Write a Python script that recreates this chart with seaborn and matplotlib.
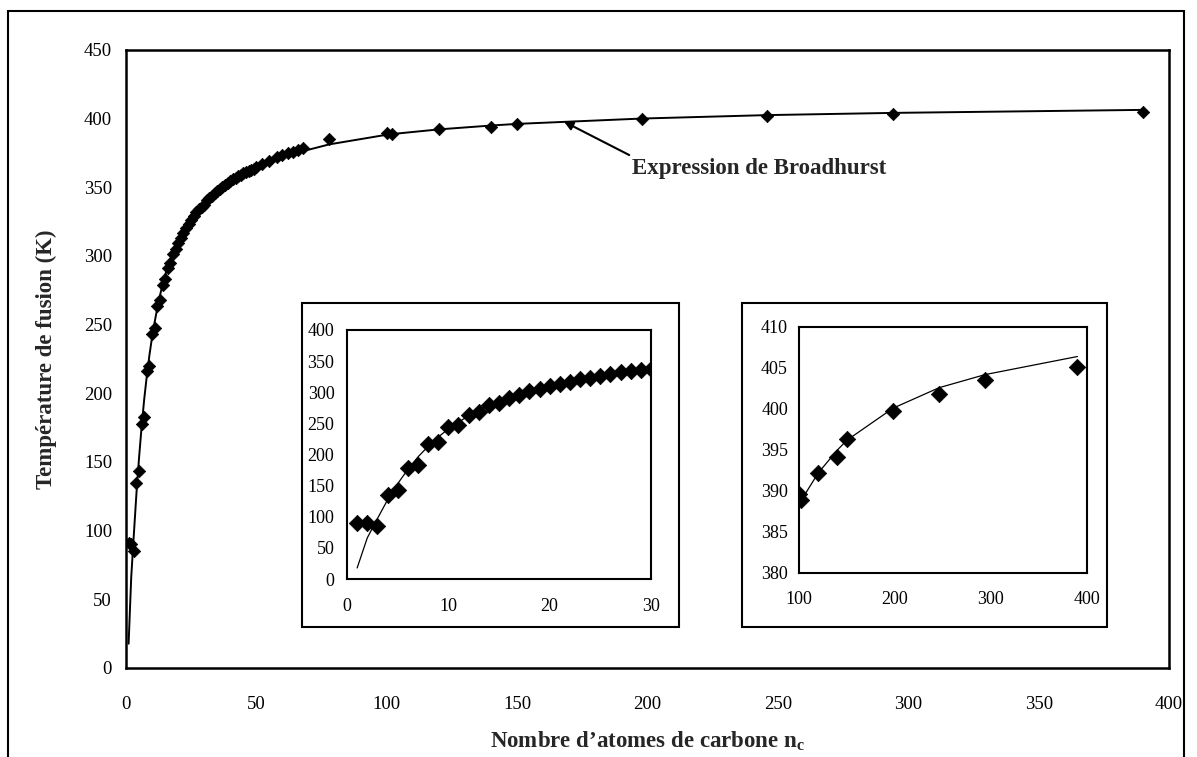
import numpy as np
import pandas as pd
import matplotlib
matplotlib.use("Agg")
import matplotlib.pyplot as plt
import seaborn as sns
from matplotlib.patches import Rectangle

# ------------------------------
# Data
# ------------------------------
n_carbon = [1, 2, 3, 4, 5, 6, 7, 8, 9, 10,
            11, 12, 13, 14, 15, 16, 17, 18, 19, 20,
            21, 22, 23, 24, 25, 26, 27, 28, 29, 30,
            31, 32, 33, 34, 35, 36, 37, 38, 39, 40,
            41, 42, 43, 44, 45, 46, 47, 48, 49, 50,
            52, 55, 58, 60, 62, 64, 66, 68, 78,
            100, 102, 120, 140, 150, 198, 246, 294, 390]

t_fusion = [90.7, 90.4, 85.5, 134.8, 143.5, 177.8, 182.6, 216.4, 219.7, 243.5,
            247.6, 263.6, 267.8, 279.0, 283.1, 291.3, 295.1, 301.3, 305.0, 309.6,
            313.4, 317.0, 320.5, 323.5, 326.5, 329.2, 331.8, 334.0, 335.8, 337.0,
            340.5, 342.2, 344.0, 345.8, 347.5, 349.0, 350.5, 352.0, 353.3, 354.6,
            355.8, 357.0, 358.1, 359.2, 360.2, 361.1, 362.0, 362.9, 363.7, 364.8,
            367.0, 369.2, 371.8, 373.4, 374.8, 375.9, 376.9, 378.6, 385.0,
            389.6, 388.9, 392.2, 394.1, 396.4, 399.8, 401.8, 403.5, 405.1]

# Broadhurst curve as drawn (one value per n)
t_broadhurst = [17.7, 66.0, 97.0, 127.0, 153.0, 176.0, 196.0, 213.0, 228.0, 241.0,
                252.0, 262.0, 271.0, 279.0, 286.0, 292.0, 297.5, 302.5, 307.0, 311.0,
                314.5, 318.0, 321.0, 324.0, 326.5, 329.0, 331.0, 333.0, 335.0, 337.0,
                339.5, 341.3, 343.1, 344.8, 346.4, 348.0, 349.5, 350.9, 352.3, 353.6,
                354.8, 356.0, 357.1, 358.2, 359.2, 360.2, 361.1, 362.0, 362.9, 363.8,
                365.5, 367.8, 370.0, 371.4, 372.7, 374.0, 375.2, 376.4, 381.3,
                388.3, 388.8, 392.2, 395.0, 396.2, 400.1, 402.6, 404.2, 406.4]

df = pd.DataFrame({"n": n_carbon, "Tf": t_fusion, "Tb": t_broadhurst})

sns.set_style("white")
plt.rcParams['font.family'] = ['Liberation Serif', 'DejaVu Serif']
plt.rcParams['mathtext.fontset'] = 'custom'
plt.rcParams['mathtext.rm'] = 'Liberation Serif'
plt.rcParams['mathtext.bf'] = 'Liberation Serif:bold'

W, H = 1197, 757
fig = plt.figure(figsize=(W / 100, H / 100), dpi=100)


def px_axes(x0, y0, x1, y1):
    return [x0 / W, 1 - y1 / H, (x1 - x0) / W, (y1 - y0) / H]


def draw_series(ax, data, lw, s):
    sns.lineplot(data=data, x="n", y="Tb", ax=ax, color="black", lw=lw,
                 sort=False, estimator=None, zorder=2)
    sns.scatterplot(data=data, x="n", y="Tf", ax=ax, marker="D", s=s,
                    color="black", edgecolor="black", linewidth=0.5, zorder=3)
    ax.set_xlabel("")
    ax.set_ylabel("")
    for sp in ax.spines.values():
        sp.set_color("black")
        sp.set_linewidth(1.5)


# ------------------------------
# Main plot
# ------------------------------
ax = fig.add_axes(px_axes(126, 50, 1169, 668))
draw_series(ax, df, 1.4, 40)
for sp in ax.spines.values():
    sp.set_linewidth(1.8)
ax.set_xlim(0, 400)
ax.set_ylim(0, 450)
ax.set_xticks(np.arange(0, 401, 50))
ax.set_yticks(np.arange(0, 451, 50))
ax.tick_params(axis="both", direction="in", length=4, width=1, labelsize=13.5, colors="black")
ax.tick_params(axis="x", pad=20)
ax.tick_params(axis="y", pad=10)
ax.set_xlabel("Nombre d’atomes de carbone $\\mathbf{n_c}$", fontsize=16.5, fontweight="bold")
ax.set_ylabel("Température de fusion (K)", fontsize=16.5, fontweight="bold")
ax.xaxis.set_label_coords(0.5, -0.10)
ax.yaxis.set_label_coords(-0.066, 0.5)

ax.text(194, 364, "Expression de Broadhurst", ha="left", va="center",
        fontsize=16.5, fontweight="bold")
ax.annotate("", xy=(168, 397.8), xytext=(193, 373.5),
            arrowprops=dict(arrowstyle="-|>", color="black", lw=1.5,
                            mutation_scale=13, shrinkA=0, shrinkB=0))

# outer frame
fig.add_artist(Rectangle((8 / W, -0.05), (1184 - 8) / W, (1 - 11 / H) + 0.05,
                         transform=fig.transFigure, fill=False, ec="black",
                         lw=1.5, clip_on=False))

# inset frames
for (x0, x1) in [(302, 679), (742, 1107)]:
    fig.add_artist(Rectangle((x0 / W, 1 - 627 / H), (x1 - x0) / W, (627 - 303) / H,
                             transform=fig.transFigure, facecolor="white",
                             ec="black", lw=1.5, zorder=5))

# ------------------------------
# Left inset: n <= 30
# ------------------------------
ax1 = fig.add_axes(px_axes(347, 330, 651, 579))
ax1.set_zorder(6)
draw_series(ax1, df[df["n"] <= 30], 0.9, 70)
ax1.set_xlim(0, 30)
ax1.set_ylim(0, 400)
ax1.set_xticks([0, 10, 20, 30])
ax1.set_yticks(np.arange(0, 401, 50))
ax1.tick_params(axis="both", direction="in", length=4, width=1, labelsize=13, colors="black")
ax1.tick_params(axis="x", pad=14)
ax1.tick_params(axis="y", pad=9)

# ------------------------------
# Right inset: n >= 100
# ------------------------------
ax2 = fig.add_axes(px_axes(799, 327, 1087, 573))
ax2.set_zorder(6)
draw_series(ax2, df[df["n"] >= 100], 0.9, 70)
ax2.set_xlim(100, 400)
ax2.set_ylim(380, 410)
ax2.set_xticks([100, 200, 300, 400])
ax2.set_yticks(np.arange(380, 411, 5))
ax2.tick_params(axis="both", direction="in", length=4, width=1, labelsize=13, colors="black")
ax2.tick_params(axis="x", pad=13)
ax2.tick_params(axis="y", pad=8)

fig.savefig("out.png", dpi=100)
